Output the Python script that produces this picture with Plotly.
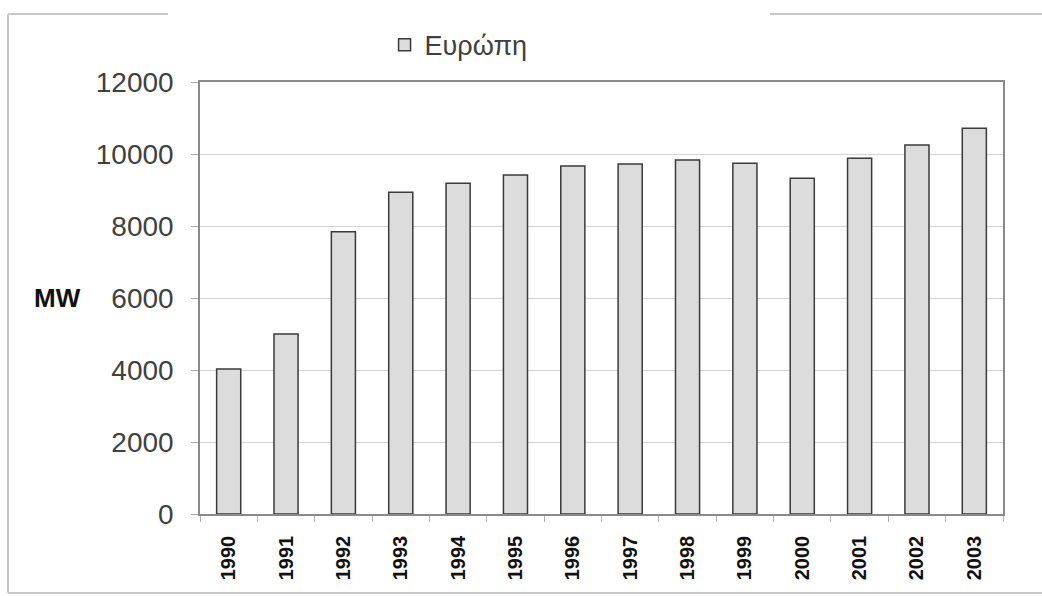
import plotly.graph_objects as go

years = ["1990", "1991", "1992", "1993", "1994", "1995", "1996",
         "1997", "1998", "1999", "2000", "2001", "2002", "2003"]
capacity_mw = [4030, 5000, 7840, 8935, 9185, 9415, 9665,
               9725, 9830, 9740, 9325, 9880, 10250, 10715]
y_ticks = [0, 2000, 4000, 6000, 8000, 10000, 12000]
y_tick_text = ["0", "2000", "4000", "6000", "8000", "10000", "12000"]
series_name = "Ευρώπη"
y_title = "MW"

fig = go.Figure()
fig.add_trace(go.Bar(
    x=years, y=capacity_mw, name=series_name,
    marker=dict(color="#dcdcdc", line=dict(color="#3a3a3a", width=1.5)),
    showlegend=True,
))

fig.update_layout(
    width=1042, height=596,
    margin=dict(l=200, r=39, t=82, b=82, autoexpand=False),
    paper_bgcolor="white", plot_bgcolor="white",
    bargap=0.58,
    font=dict(family="Liberation Sans, Arial, sans-serif", color="#404040"),
    showlegend=True,
    legend=dict(
        orientation="h", x=0.322, xanchor="center", y=0.924, yanchor="middle",
        yref="container", font=dict(size=27, color="#404040"),
        itemwidth=30, bgcolor="rgba(0,0,0,0)",
    ),
    xaxis=dict(
        type="category", tickangle=-90, automargin=False,
        tickfont=dict(size=20, color="#111111",
                      family="Liberation Sans, Arial, sans-serif", weight="bold"),
        showline=True, linecolor="#8a8a8a", linewidth=1.5, mirror=True,
        ticks="outside", tickson="boundaries", ticklen=6, tickcolor="#b0b0b0",
        showgrid=False, ticklabelstandoff=12,
    ),
    yaxis=dict(
        range=[0, 12000], tickvals=y_ticks, ticktext=y_tick_text,
        automargin=False,
        tickfont=dict(size=28, color="#404040"),
        showline=True, linecolor="#8a8a8a", linewidth=1.5, mirror=True,
        ticks="outside", ticklen=7, tickcolor="#b0b0b0",
        showgrid=True, gridcolor="#d4d4d4", gridwidth=1.2,
        zeroline=False, ticklabelstandoff=12,
    ),
)

# Axis title placed horizontally to the left of the tick labels
fig.add_annotation(
    text=y_title, xref="paper", yref="paper", x=-0.178, y=0.5,
    xanchor="center", yanchor="middle", showarrow=False,
    font=dict(size=26, color="#111111", weight="bold"),
)

# Outer chart frame (open at the top behind the legend)
frame = dict(type="line", xref="paper", yref="paper",
             line=dict(color="#c8c8c8", width=2))
x_right = (1042 - 200) / 803
y_top = (596 - 82 - 14) / 432
y_bot = -(593 - 514) / 432
fig.add_shape(**frame, x0=-192 / 803, x1=-192 / 803, y0=y_bot, y1=y_top)
fig.add_shape(**frame, x0=-192 / 803, x1=x_right, y0=y_bot, y1=y_bot)
fig.add_shape(**frame, x0=-192 / 803, x1=(168 - 200) / 803, y0=y_top, y1=y_top)
fig.add_shape(**frame, x0=(770 - 200) / 803, x1=x_right, y0=y_top, y1=y_top)

fig.write_html("out.html")
